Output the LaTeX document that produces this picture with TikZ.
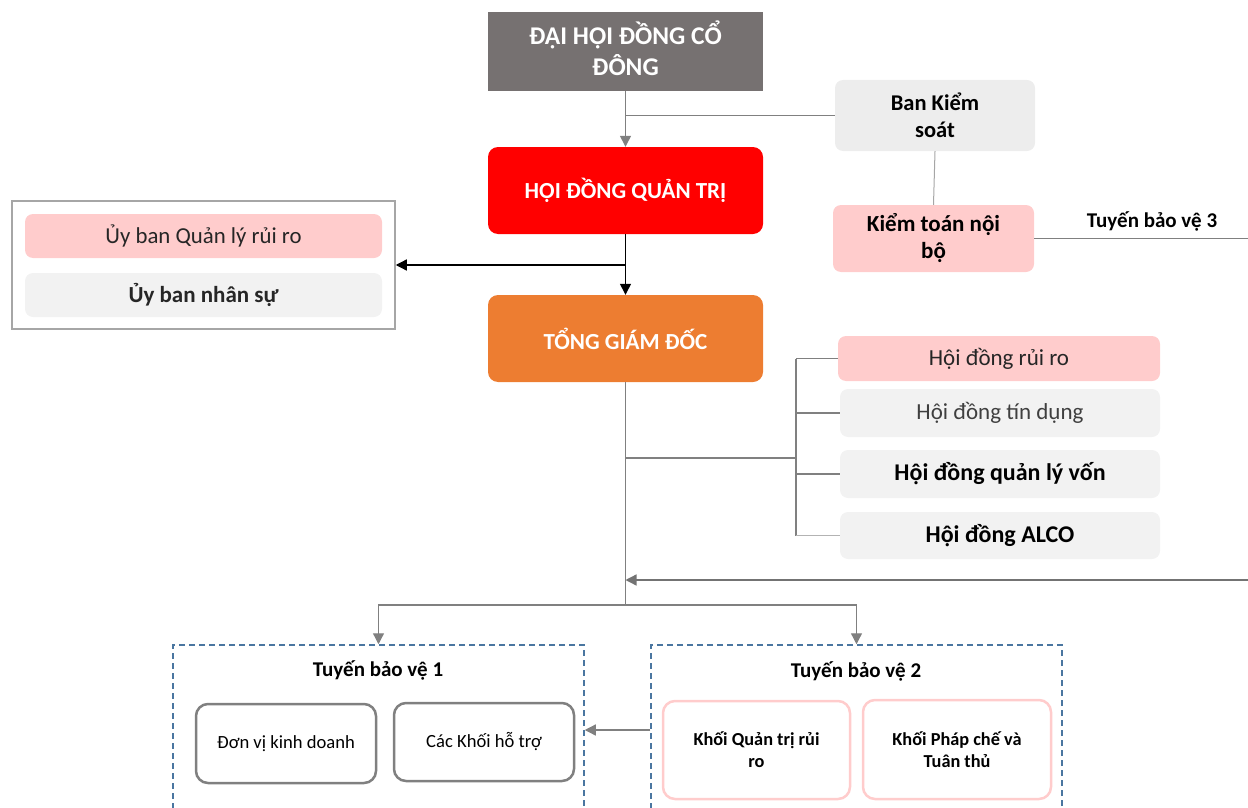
\documentclass[tikz,border=0pt]{standalone}
\usepackage{fontspec}
\setmainfont{Carlito}
\usetikzlibrary{arrows.meta}
\definecolor{dgray}{HTML}{767171}
\definecolor{cred}{HTML}{FF0000}
\definecolor{corange}{HTML}{ED7D31}
\definecolor{cpink}{HTML}{FFCCCC}
\definecolor{clight}{HTML}{EDEDED}
\definecolor{clight2}{HTML}{F2F2F2}
\definecolor{cline}{HTML}{808080}
\definecolor{cdash}{HTML}{4A76A0}
\definecolor{ctext}{HTML}{262626}
\definecolor{ctext2}{HTML}{3F3F3F}
\tikzset{
  blk/.style={inner sep=0pt, align=center},
  topbox/.style={blk, minimum width=275pt, text=white, font=\fontsize{23}{29}\selectfont\bfseries},
  sidebox/.style={blk, rounded corners=8pt},
  conn/.style={draw=cline, line width=1.3pt},
  tip/.style={-{Triangle[width=11pt,length=11pt]}},
  dashbox/.style={draw=cdash, line width=1.5pt, dash pattern=on 6pt off 4pt, minimum width=411pt, minimum height=170pt, inner sep=0pt},
  unit/.style={blk, rounded corners=12pt, fill=white, line width=2.5pt},
}
\begin{document}
\begin{tikzpicture}[x=1pt,y=-1pt]
\useasboundingbox (0,0) rectangle (1248,808);
\clip (0,0) rectangle (1248,808);

% top column
\node[topbox, fill=dgray, minimum height=79pt, font=\fontsize{25.5}{31}\selectfont\bfseries] (dhd) at (625.5,51.5) {ĐẠI HỘI ĐỒNG CỔ\\ĐÔNG\rule[-6pt]{0pt}{6pt}};
\node[topbox, fill=cred, minimum height=87pt, rounded corners=10pt] (hdqt) at (625.5,190.5) {HỘI ĐỒNG QUẢN TRỊ};
\node[topbox, fill=corange, minimum height=87pt, rounded corners=10pt] (tgd) at (625.5,338.5) {TỔNG GIÁM ĐỐC};

% right upper
\node[sidebox, fill=clight, minimum width=200pt, minimum height=71pt, font=\fontsize{22.5}{27}\selectfont\bfseries] (bks) at (935,115.5) {Ban Kiểm\\soát};
\node[sidebox, fill=cpink, minimum width=201pt, minimum height=67pt, font=\fontsize{23}{27}\selectfont\bfseries] (ktnb) at (933.5,238.5) {Kiểm toán nội\\bộ};
\node[font=\fontsize{21}{24}\selectfont\bfseries] (t3) at (1152,221) {Tuyến bảo vệ 3};

% left committees
\node[draw=cline!70, line width=1.5pt, minimum width=383pt, minimum height=128pt, inner sep=0pt] (lbox) at (203.5,265) {};
\node[sidebox, fill=cpink, minimum width=357pt, minimum height=44pt, font=\fontsize{22.8}{26}\selectfont, text=ctext] (uqr) at (203.5,236) {Ủy ban Quản lý rủi ro};
\node[sidebox, fill=clight2, minimum width=357pt, minimum height=44pt, font=\fontsize{23}{26}\selectfont\bfseries, text=ctext] (uns) at (203.5,295) {Ủy ban nhân sự};

% councils
\node[sidebox, fill=cpink, minimum width=322pt, minimum height=45pt, font=\fontsize{23}{26}\selectfont, text=ctext] (hd1) at (999,358.5) {Hội đồng rủi ro};
\node[sidebox, fill=clight2, minimum width=320pt, minimum height=48pt, font=\fontsize{23}{26}\selectfont, text=ctext2] (hd2) at (1000,413) {Hội đồng tín dụng};
\node[sidebox, fill=clight2, minimum width=320pt, minimum height=48pt, font=\fontsize{24}{28}\selectfont\bfseries] (hd3) at (1000,474) {Hội đồng quản lý vốn};
\node[sidebox, fill=clight2, minimum width=320pt, minimum height=47pt, font=\fontsize{24}{28}\selectfont\bfseries] (hd4) at (1000,535.5) {Hội đồng ALCO};

% lines of defence
\node[dashbox] (tb1) at (378.5,730) {};
\node[dashbox] (tb2) at (856.5,730) {};
\node[font=\fontsize{21}{24}\selectfont\bfseries] (tt1) at (378,670) {Tuyến bảo vệ 1};
\node[font=\fontsize{21}{24}\selectfont\bfseries] (tt2) at (856,671) {Tuyến bảo vệ 2};
\node[unit, draw=cline, minimum width=180pt, minimum height=79pt, font=\fontsize{18.6}{22}\selectfont] (dv) at (286,743.5) {Đơn vị kinh doanh};
\node[unit, draw=cline, minimum width=180pt, minimum height=78pt, font=\fontsize{18.6}{22}\selectfont] (ckh) at (484,742) {Các Khối hỗ trợ};
\node[unit, draw=cpink, minimum width=187pt, minimum height=98pt, font=\fontsize{18.3}{22}\selectfont\bfseries] (kqt) at (756.5,750) {Khối Quản trị rủi\\ro};
\node[unit, draw=cpink, minimum width=188pt, minimum height=99pt, font=\fontsize{18.3}{22}\selectfont\bfseries] (kpc) at (957,749.5) {Khối Pháp chế và\\Tuân thủ};

% connectors
\draw[conn, tip] (dhd.south) -- (hdqt.north);
\draw[conn] (dhd.south |- bks.west) -- (bks.west);
\draw[draw=cline!70, line width=1pt] (bks.south) -- (ktnb.north);
\coordinate (r3) at (1248,238.5);
\draw[conn, line width=1pt] (ktnb.east) -- (r3);

\draw[black, line width=1.3pt, tip] (hdqt.south) -- (tgd.north);
\draw[black, line width=1.3pt, tip] (hdqt.south |- lbox.east) -- (lbox.east);

\coordinate (split) at (625.5,605);
\coordinate (bus) at (796,458);
\draw[conn] (tgd.south) -- (split);
\draw[conn] (tgd.south |- bus) -- (bus);
\draw[conn] (bus |- hd1.west) -- (bus |- hd4.west);
\draw[conn] (bus |- hd1.west) -- (hd1.west);
\draw[conn] (bus |- hd2.west) -- (hd2.west);
\draw[conn] (bus |- hd3.west) -- (hd3.west);
\draw[conn, draw=cline!60] (bus |- hd4.west) -- (hd4.west);

\coordinate (r2) at (1248,580);
\draw[conn, tip, draw=cline!90!black] (r2) -- (tgd.south |- r2);

\draw[conn, tip] (split) -| (tb1.north);
\draw[conn, tip] (split) -| (tb2.north);
\draw[conn, tip] (tb2.west) -- (tb1.east);
\end{tikzpicture}
\end{document}
